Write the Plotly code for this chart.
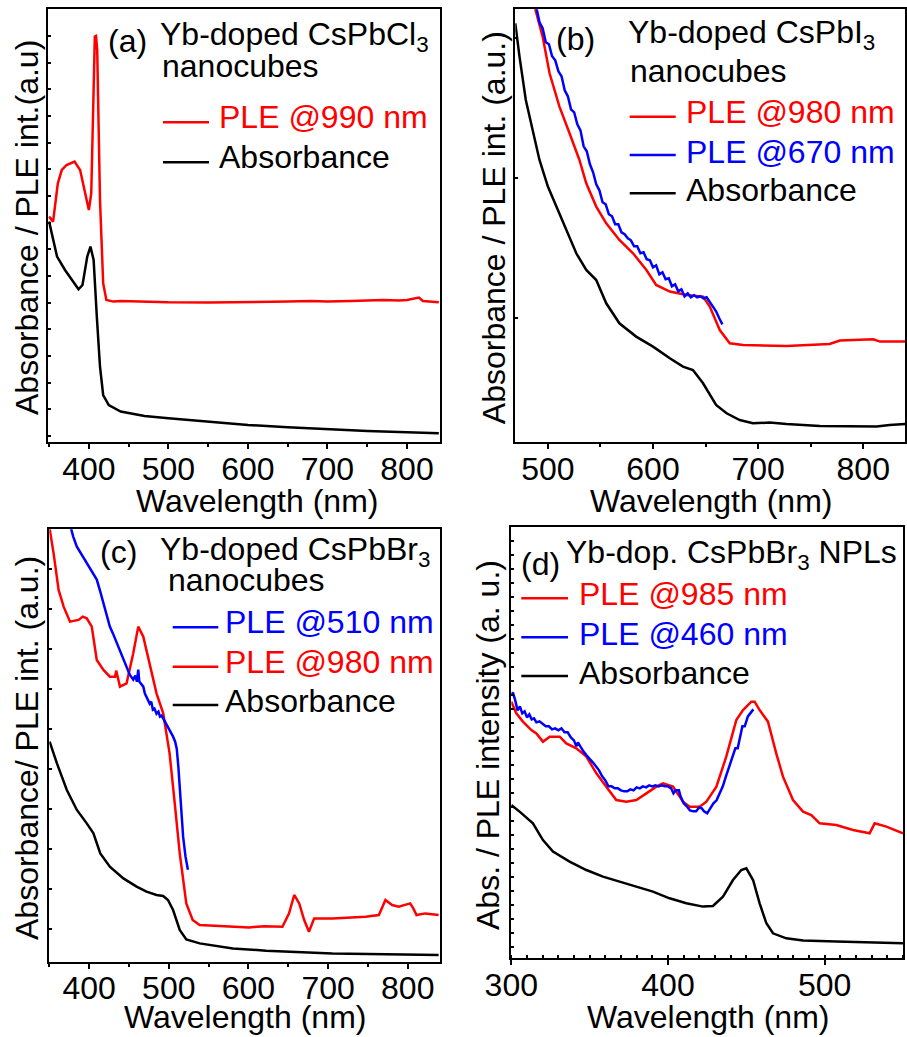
import plotly.graph_objects as go

W, H = 907, 1037
FONT = "Liberation Sans, Arial, Helvetica, sans-serif"
FS = 32
RED, BLUE, BLACK = "#ff0000", "#0000ff", "#000000"

# ---------------- panel (a): Yb-doped CsPbCl3 nanocubes ----------------
a_ple_wl = [350, 355, 361, 366, 372, 382, 389, 395, 400, 403, 405, 407.5, 409, 410.5, 414, 418,
            422, 431, 440, 480, 500, 550, 600, 620, 650, 680, 700, 730, 750, 770, 790, 800, 815, 820, 840]
a_ple_int = [225.7, 220.7, 259, 272.3, 277.3, 280.7, 272.3, 249, 232.3, 249, 320, 405.7, 406.3, 392.3,
             242.3, 159, 142.3, 140.7, 141.3, 140.5, 140, 139.8, 140, 140.5, 140.7, 141.3, 140.7, 141.3,
             141.7, 142.3, 141.8, 142.3, 144.7, 141.3, 140]
a_abs_wl = [350, 355, 360, 370, 380, 387, 392, 398, 402, 406, 410, 414, 418, 425, 440, 470, 500,
            550, 600, 650, 700, 750, 800, 840]
a_abs_int = [220.7, 202.3, 185.7, 172.3, 160.7, 153, 157.3, 185.7, 195.7, 182.3, 125.7, 75.7, 47.3,
             37.3, 30.7, 26.3, 24, 20.3, 17.3, 15, 13, 11.3, 10, 9]

# ---------------- panel (b): Yb-doped CsPbI3 nanocubes ----------------
b_ple980_wl = [485, 489, 495, 501.6, 511, 520.6, 530, 536.5, 546, 555.5, 568, 581, 593.7, 603, 616,
               632, 647.6, 654, 663.5, 673, 685.7, 727, 768, 777.8, 809.5, 816, 840]
b_ple980_int = [445, 429, 405.7, 369, 335.7, 309, 282.3, 259, 235.7, 219, 202.3, 189, 172.3, 157.3,
                150.7, 147.3, 145.7, 135.7, 112.3, 99, 97.3, 96.3, 98.3, 101.7, 103, 100.7, 100.7]
b_ple670_wl = [487, 489, 492, 495, 498, 501, 504, 507, 510, 513, 516, 519, 522, 525, 528, 531, 534,
               537, 540, 543, 546, 549, 552, 555, 558, 561, 564, 567, 570, 573, 576, 579, 582, 585,
               588, 591, 594, 597, 600, 603, 606, 609, 612, 615, 618, 621, 624, 627, 630, 633, 636,
               639, 642, 645, 648, 651, 654, 657, 660, 663, 666]
b_ple670_int = [445, 435, 420, 414, 400, 398, 386, 382, 371, 366, 352, 346, 333, 330, 318, 312, 296,
                291, 278, 270, 258, 252, 240, 238, 228, 226, 218, 218, 210, 208, 204, 202, 196, 196,
                189, 190, 183, 182, 175, 177, 168, 170, 163, 164, 156, 158, 151, 153, 146, 149, 145,
                147, 145, 146, 144, 145, 140, 136, 131, 124, 118]
b_abs_wl = [469, 473, 479, 486, 492, 500, 508, 517, 527, 536.5, 546, 555.5, 568, 584, 600, 616,
            628.5, 638, 647.6, 660, 670, 682.5, 695, 711, 727, 758.7, 790, 812.7, 825, 840]
b_abs_int = [419, 385.7, 342.3, 309, 282.3, 255.7, 235.7, 212.3, 189, 172.3, 162.3, 139, 119, 105.7,
             95.7, 84, 75.7, 72.3, 59, 37.3, 29, 22.3, 19, 19.7, 18.3, 16.3, 16.3, 15.7, 17.3, 18.3]

# ---------------- panel (c): Yb-doped CsPbBr3 nanocubes ----------------
c_ple510_wl = [375, 380, 384.6, 390, 397, 403, 409.6, 414, 418, 422, 426, 430, 434, 438.75, 443, 447,
               451, 455.4, 458, 460, 461.7, 463, 465, 468, 470, 472, 474, 476, 478, 480, 482, 484.6,
               487, 489, 491, 493, 496, 499, 502, 505.4, 508, 510, 512, 514, 516, 518, 521, 524]
c_ple510_int = [440, 425, 415, 408, 398, 390, 382, 370, 358, 347, 335, 328, 320, 312, 302, 295, 287,
                282, 286, 280, 292, 280, 278, 275, 268, 265, 262, 258, 260, 252, 253, 248, 250, 245,
                246, 243, 240, 235, 230, 225, 220, 213, 195, 170, 145, 125, 105, 92]
c_ple980_wl = [350, 355.4, 361.7, 368, 376, 386.7, 392, 397, 403.3, 409.6, 418, 426, 432.5, 434,
               438.75, 447, 455.4, 461.7, 468, 476, 484.6, 493, 501, 507.5, 513.75, 522, 530, 538.75,
               559.6, 580, 601, 620, 642.7, 651, 657.5, 663.75, 670, 676, 682.5, 705.4, 730, 747,
               763.75, 772, 780.4, 788.75, 803, 807, 811, 822, 838.75]
c_ple980_int = [435, 408.3, 371.7, 355, 340, 341.7, 345, 343.3, 335, 301.7, 291.7, 285, 285, 291,
                275, 278.3, 308.3, 335, 325, 298.3, 268.3, 248.3, 208.3, 158.3, 108.3, 58.3, 41.7,
                36.7, 35.7, 34.8, 34.3, 35.5, 35, 48.3, 66.7, 58.3, 41.7, 30, 43.3, 43.3, 44, 45,
                46.7, 61.7, 56.7, 55, 58.3, 53.3, 46.7, 48.3, 46.7]
c_abs_wl = [350.4, 359.6, 372, 384.6, 397, 405.4, 414, 426, 443, 459.6, 472, 484.6, 493, 499,
            505.4, 513.75, 522, 538.75, 580.4, 622, 705.4, 780, 838.75]
c_abs_int = [220, 198.3, 171.7, 151.7, 138.3, 128.3, 108.3, 95, 83.3, 75, 70, 66.7, 65.7, 61.7,
             51.7, 31.7, 22.3, 18.3, 13.3, 11, 8.3, 7.3, 6.7]

# ---------------- panel (d): Yb-doped CsPbBr3 nanoplatelets ----------------
d_ple985_wl = [300, 303.2, 307.4, 312.8, 316, 320.2, 324.5, 330.9, 335.1, 341.5, 347.9, 354.3,
               360.6, 367, 373.4, 379.8, 386.2, 392.6, 396.8, 403.2, 409.6, 413.8, 420.2, 424.5,
               430.9, 437.2, 443.6, 447.9, 453.2, 455.3, 458.5, 463.8, 469.1, 473.4, 479.8, 486.2,
               491.5, 496.8, 507.4, 518.1, 528.7, 531.9, 539.4, 547.9, 550]
d_ple985_int = [256.7, 245, 236.7, 228.3, 225, 216.7, 221.7, 221.7, 215, 210, 201.7, 185, 171.7,
                158.3, 156.7, 158.3, 165, 171.7, 175, 171.7, 156.7, 151.7, 151.7, 156.7, 171.7,
                201.7, 238.3, 248.3, 256.7, 256.7, 248.3, 236.7, 205, 181.7, 158.3, 146.7, 143.3,
                135, 133.3, 128.3, 125, 135, 131.7, 126.7, 125]
d_ple460_wl = [300, 301, 302.5, 304, 305.5, 307, 308.5, 310, 311.5, 313, 314.5, 316, 318, 320, 322,
               324, 326, 328, 330, 332, 334, 336, 338, 340, 341.5, 342.5, 344, 346, 348, 350, 352,
               354, 356, 358, 360, 362, 364, 366, 368, 370, 372, 374, 376, 378, 380, 382, 384, 386,
               388, 390, 392, 394, 396, 398, 400, 402, 403.5, 405, 407, 408, 410, 412, 414, 416,
               418, 420, 421.5, 423, 425, 427, 429, 431, 433, 435, 437, 439, 441, 443, 444.5, 446,
               447.5, 449, 451, 453, 454.5]
d_ple460_int = [263, 266, 258, 248, 252, 245, 247, 241, 244, 239, 240, 236, 237, 234, 232, 232, 229,
                230, 228, 230, 226, 226, 221, 218, 212, 216, 212, 207, 203, 200, 196, 192, 188, 182,
                178, 172, 172, 170, 170, 168, 167, 167, 169, 168, 171, 170, 172, 171, 173, 172, 173,
                172, 173, 172, 172, 170, 165, 168, 168, 162, 155, 152, 148, 147, 147, 151, 150, 147,
                145, 150, 155, 158, 165, 172, 182, 192, 200, 210, 210, 222, 232, 232, 242, 246, 249]
d_abs_wl = [300, 305.3, 313.8, 320.2, 326.6, 337.2, 347.9, 358.5, 369.1, 379.8, 390.4, 401, 411.7,
            422.3, 428.7, 435.1, 441.5, 446.8, 450, 454.3, 458.5, 462.8, 467, 475.5, 486.2, 507.4, 550]
d_abs_int = [153.3, 146.7, 135, 118.3, 106.7, 96.7, 88.3, 81.7, 76.7, 71.7, 66.7, 60, 55, 51.7,
             52.3, 61.7, 78.3, 88.3, 90, 78.3, 55, 35, 25, 20, 17.7, 16.7, 15]

# ---------------- figure ----------------
fig = go.Figure()
LW = 2.5

def add(x, y, color, k):
    fig.add_trace(go.Scatter(x=x, y=y, mode="lines", line=dict(color=color, width=LW),
                             xaxis="x" + ("" if k == 1 else str(k)),
                             yaxis="y" + ("" if k == 1 else str(k)),
                             showlegend=False, hoverinfo="skip"))

add(a_abs_wl, a_abs_int, BLACK, 1)
add(a_ple_wl, a_ple_int, RED, 1)
add(b_abs_wl, b_abs_int, BLACK, 2)
add(b_ple980_wl, b_ple980_int, RED, 2)
add(b_ple670_wl, b_ple670_int, BLUE, 2)
add(c_abs_wl, c_abs_int, BLACK, 3)
add(c_ple980_wl, c_ple980_int, RED, 3)
add(c_ple510_wl, c_ple510_int, BLUE, 3)
add(d_abs_wl, d_abs_int, BLACK, 4)
add(d_ple985_wl, d_ple985_int, RED, 4)
add(d_ple460_wl, d_ple460_int, BLUE, 4)

def px(x): return x / W
def py(y): return 1 - y / H

def xax(x0, x1, rng, dtick, mdtick, mticks, anchor):
    return dict(domain=[px(x0), px(x1)], range=rng, anchor=anchor, automargin=False,
                showline=True, mirror=True, linecolor=BLACK, linewidth=2,
                showgrid=False, zeroline=False, ticks="outside", ticklen=5, tickwidth=2,
                tickcolor=BLACK, tick0=0, dtick=dtick, ticklabelstandoff=-8,
                tickfont=dict(family=FONT, size=FS, color=BLACK),
                minor=dict(dtick=mdtick, tick0=0, ticks=mticks, ticklen=3, tickwidth=1.5,
                           tickcolor=BLACK, showgrid=False))

def yax(y0, y1, rng, tick0, dtick, anchor):
    return dict(domain=[py(y1), py(y0)], range=rng, anchor=anchor, automargin=False,
                showline=True, mirror=True, linecolor=BLACK, linewidth=2,
                showgrid=False, zeroline=False, showticklabels=False,
                ticks="inside", ticklen=3, tickwidth=1.5, tickcolor=BLACK,
                tick0=tick0, dtick=dtick)

fig.update_layout(
    template="none",
    width=W, height=H, margin=dict(l=0, r=0, t=0, b=0, pad=0),
    paper_bgcolor="white", plot_bgcolor="white", showlegend=False,
    xaxis=xax(48.3, 440, [349, 841.5], 100, 50, "outside", "y"),
    yaxis=yax(9.3, 442.3, [0, 433], 6.33, 26.667, "x"),
    xaxis2=xax(515.3, 905.3, [469, 840], 100, 50, "outside", "y2"),
    yaxis2=yax(9.3, 442.3, [0, 433], 124, 140, "x2"),
    xaxis3=xax(49.3, 440, [350, 840.5], 100, 50, "outside", "y3"),
    yaxis3=yax(529.3, 961.7, [0, 432.3], 32.33, 40, "x3"),
    xaxis4=xax(511.3, 903, [300, 550], 100, 10, "inside", "y4"),
    yaxis4=yax(526.7, 958.3, [0, 431.7], 11.33, 14, "x4"),
)

ann = []
def text(x, base, s, color=BLACK, anchor="left"):
    ann.append(dict(x=px(x), y=py(base - 0.905 * FS), xref="paper", yref="paper",
                    xanchor=anchor, yanchor="top", text=s, showarrow=False,
                    font=dict(family=FONT, size=FS, color=color), borderpad=0, borderwidth=0))

def vtext(xc, yc, s):
    ann.append(dict(x=px(xc), y=py(yc), xref="paper", yref="paper", xanchor="center",
                    yanchor="middle", text=s, textangle=-90, showarrow=False,
                    font=dict(family=FONT, size=FS, color=BLACK), borderpad=0, borderwidth=0))

shapes = []
def key(x0, x1, y, color):
    shapes.append(dict(type="line", xref="paper", yref="paper", x0=px(x0), x1=px(x1),
                       y0=py(y), y1=py(y), line=dict(color=color, width=LW)))

# (a)
text(108, 52, "(a)")
text(160, 45, "Yb-doped CsPbCl<sub>3</sub>")
text(162, 77.3, "nanocubes")
key(163, 209, 122.3, RED); text(219, 128.3, "PLE @990 nm", RED)
key(163, 209, 162.3, BLACK); text(219, 168.3, "Absorbance")
vtext(27, 228, "Absorbance / PLE int.(a.u)")
text(256.7, 511.7, "Wavelength (nm)", anchor="center")
# (b)
text(556, 50, "(b)")
text(628, 43.3, "Yb-doped CsPbI<sub>3</sub>")
text(629.7, 81.7, "nanocubes")
key(629.7, 675.7, 116.7, RED); text(685.7, 123.3, "PLE @980 nm", RED)
key(629.7, 675.7, 155, BLUE); text(685.7, 162.7, "PLE @670 nm", BLUE)
key(629.7, 675.7, 193.3, BLACK); text(685.7, 201, "Absorbance")
vtext(493.5, 227.7, "Absorbance / PLE int. (a.u.)")
text(711.3, 511.7, "Wavelength (nm)", anchor="center")
# (c)
text(100, 563.3, "(c)")
text(160, 560, "Yb-doped CsPbBr<sub>3</sub>")
text(168.3, 590.7, "nanocubes")
key(172.7, 218.3, 627.3, BLUE); text(225, 633.3, "PLE @510 nm", BLUE)
key(172.7, 218.3, 666.7, RED); text(225, 673.3, "PLE @980 nm", RED)
key(172.7, 218.3, 705, BLACK); text(225, 712.3, "Absorbance")
vtext(27, 748, "Absorbance/ PLE int. (a.u.)")
text(245, 1028.3, "Wavelength (nm)", anchor="center")
# (d)
text(521, 575, "(d)")
text(566.3, 563.3, "Yb-dop. CsPbBr<sub>3</sub> NPLs")
key(521.3, 568, 598.3, RED); text(579, 605, "PLE @985 nm", RED)
key(521.3, 568, 637.3, BLUE); text(579, 645, "PLE @460 nm", BLUE)
key(521.3, 568, 676, BLACK); text(579, 684, "Absorbance")
vtext(488, 745, "Abs. / PLE intensity (a. u.)")
text(708, 1028.3, "Wavelength (nm)", anchor="center")

fig.update_layout(annotations=ann, shapes=shapes)
fig.write_html("out.html")
